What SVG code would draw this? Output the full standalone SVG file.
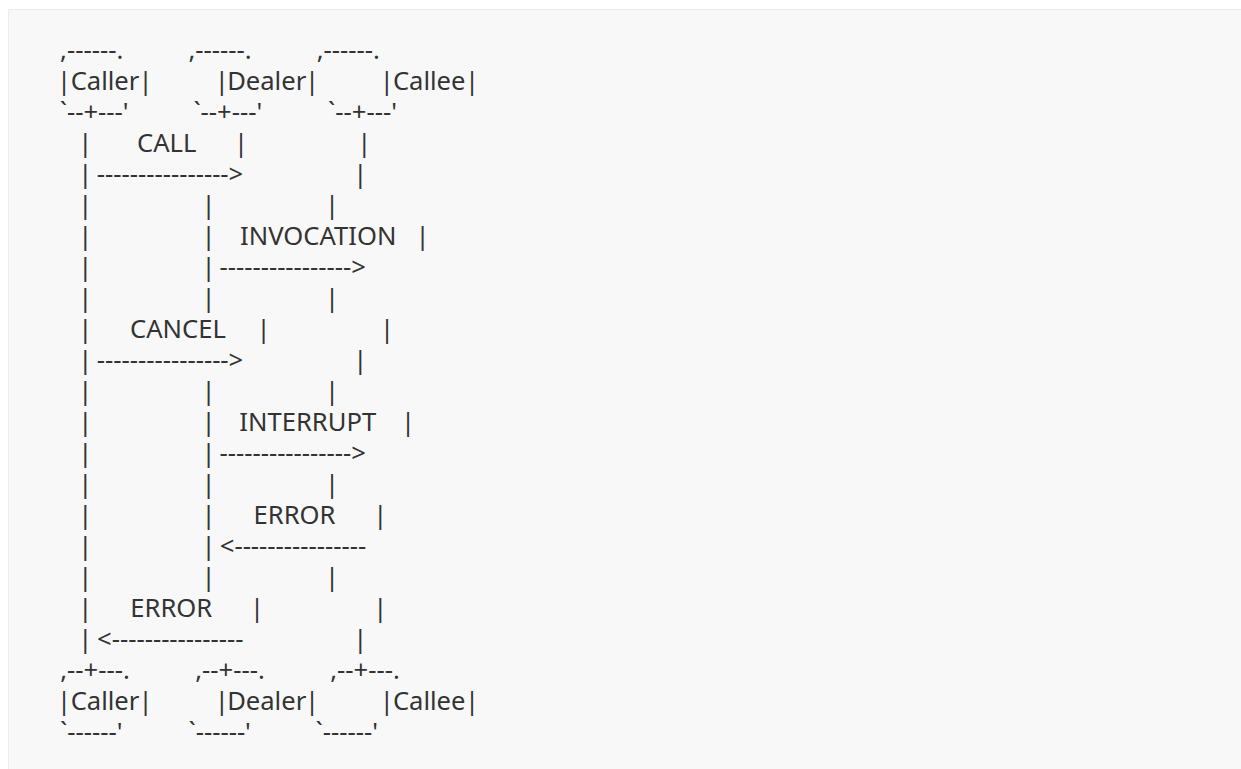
<svg xmlns="http://www.w3.org/2000/svg" width="1241" height="769" viewBox="0 0 1241 769">
<style>
text{font-family:"Noto Sans","Open Sans",sans-serif;font-size:25.6px;fill:#333;text-anchor:middle}
</style>
<rect x="0" y="0" width="1241" height="769" fill="#ffffff"/>
<rect x="8.5" y="9.5" width="1240" height="770" fill="#f8f8f8" stroke="#ececec" stroke-width="1"/>
<g id="node-caller-top">
<text x="91.7" y="59">,------.</text>
<text x="64" y="90">|</text><text x="105" y="90">Caller</text><text x="145.5" y="90">|</text>
<text x="94.2" y="121">`--+---'</text>
</g>
<g id="node-dealer-top">
<text x="220" y="59">,------.</text>
<text x="221.7" y="90">|</text><text x="266.7" y="90">Dealer</text><text x="312" y="90">|</text>
<text x="227.8" y="121">`--+---'</text>
</g>
<g id="node-callee-top">
<text x="348.3" y="59">,------.</text>
<text x="386.7" y="90">|</text><text x="429.2" y="90">Callee</text><text x="472" y="90">|</text>
<text x="362.5" y="121">`--+---'</text>
</g>
<g id="connectors">
<text x="85.3" y="152">|</text><text x="166.7" y="152">CALL</text><text x="241" y="152">|</text><text x="364.3" y="152">|</text>
<text x="85.3" y="183">|</text><text x="170" y="183">----------------&gt;</text><text x="360.3" y="183">|</text>
<text x="85.3" y="214">|</text><text x="208.6" y="214">|</text><text x="332" y="214">|</text>
<text x="85.3" y="245">|</text><text x="208.6" y="245">|</text><text x="318.2" y="245">INVOCATION</text><text x="422.6" y="245">|</text>
<text x="85.3" y="276">|</text><text x="208.6" y="276">|</text><text x="292.7" y="276">----------------&gt;</text>
<text x="85.3" y="307">|</text><text x="208.6" y="307">|</text><text x="332" y="307">|</text>
<text x="85.3" y="338">|</text><text x="178" y="338">CANCEL</text><text x="263.6" y="338">|</text><text x="387" y="338">|</text>
<text x="85.3" y="369">|</text><text x="170" y="369">----------------&gt;</text><text x="360.3" y="369">|</text>
<text x="85.3" y="400">|</text><text x="208.6" y="400">|</text><text x="332" y="400">|</text>
<text x="85.3" y="431">|</text><text x="208.6" y="431">|</text><text x="307.8" y="431">INTERRUPT</text><text x="408" y="431">|</text>
<text x="85.3" y="462">|</text><text x="208.6" y="462">|</text><text x="292.7" y="462">----------------&gt;</text>
<text x="85.3" y="493">|</text><text x="208.6" y="493">|</text><text x="332" y="493">|</text>
<text x="85.3" y="524">|</text><text x="208.6" y="524">|</text><text x="294.5" y="524">ERROR</text><text x="380.3" y="524">|</text>
<text x="85.3" y="555">|</text><text x="208.6" y="555">|</text><text x="293" y="555">&lt;----------------</text>
<text x="85.3" y="586">|</text><text x="208.6" y="586">|</text><text x="332" y="586">|</text>
<text x="85.3" y="617">|</text><text x="171.3" y="617">ERROR</text><text x="257" y="617">|</text><text x="380.3" y="617">|</text>
<text x="85.3" y="648">|</text><text x="170.3" y="648">&lt;----------------</text><text x="360.3" y="648">|</text>
</g>
<g id="node-caller-bottom">
<text x="95" y="679">,--+---.</text>
<text x="64" y="710">|</text><text x="105" y="710">Caller</text><text x="145.5" y="710">|</text>
<text x="91.3" y="741">`------'</text>
</g>
<g id="node-dealer-bottom">
<text x="230" y="679">,--+---.</text>
<text x="221.7" y="710">|</text><text x="266.7" y="710">Dealer</text><text x="312" y="710">|</text>
<text x="219.7" y="741">`------'</text>
</g>
<g id="node-callee-bottom">
<text x="365" y="679">,--+---.</text>
<text x="386.7" y="710">|</text><text x="429.2" y="710">Callee</text><text x="472" y="710">|</text>
<text x="346.8" y="741">`------'</text>
</g>
</svg>
